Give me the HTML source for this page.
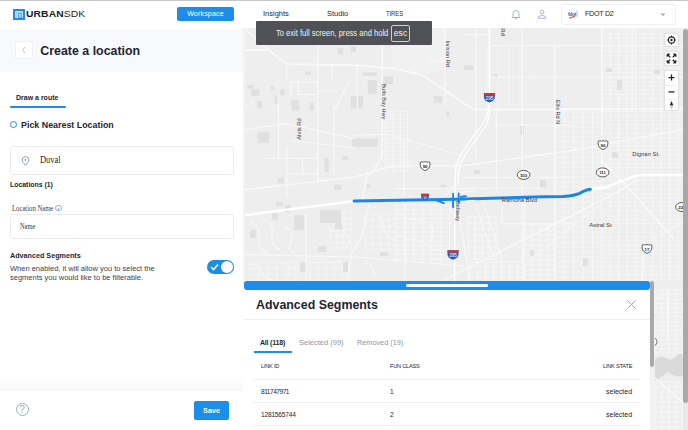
<!DOCTYPE html>
<html><head><meta charset="utf-8">
<style>
*{margin:0;padding:0;box-sizing:border-box}
html,body{width:688px;height:430px;overflow:hidden;background:#fff;font-family:"Liberation Sans",sans-serif;color:#1f2433}
.a{position:absolute;white-space:nowrap}
#topline{left:0;top:0;width:688px;height:1px;background:#c6c6c6}
#hdr{left:0;top:1px;width:688px;height:27px;background:#fff}
#logo{left:13px;top:8.5px;width:12px;height:11.5px;background:#1a8ce9;border-radius:0.5px}
#logo i{position:absolute;left:2.4px;top:2.2px;width:7.4px;height:7px;background:#a9d2f6;border-radius:1px;border:1px solid #c8e2fa}
#logo i:after{content:"";position:absolute;left:1.5px;top:1.5px;width:2.5px;height:2.5px;border:0.8px solid #5aa8ee;border-radius:0.5px}
#brand{left:26.3px;top:7.3px;font-size:8.8px;line-height:14px;color:#161b2b;transform:scaleX(1.17);transform-origin:0 0}
#brand b{font-weight:bold;letter-spacing:0.1px}
#brand span{letter-spacing:0.05px;color:#1f2433}
#ws{left:177px;top:7px;width:57px;height:14px;background:#1c8de9;border-radius:2px;color:#fff;font-size:7px;line-height:14px;text-align:center;letter-spacing:0.2px}
.nav{top:7.4px;font-size:7.5px;line-height:14px;color:#1f2433}
#panel{left:0;top:28px;width:243px;height:402px;background:#fff}
#phdr{left:0;top:28.5px;width:243px;height:43.5px;background:#f8f9fb}
#back{left:15px;top:41px;width:18px;height:18px;background:#fff;border:1px solid #eef0f3;border-radius:2px}
#title{left:40.3px;top:42.6px;font-size:12.4px;line-height:16px;font-weight:bold;color:#1f2433}
#tab{left:16px;top:93px;font-size:7px;line-height:9px;font-weight:bold;color:#1f2433}
#tabline{left:10px;top:106px;width:56px;height:1.8px;background:#1c8de9;border-radius:1px}
#radio{left:9.6px;top:121px;width:7.4px;height:7.4px;border:1.7px solid #1c8de9;border-radius:50%}
#pick{left:21px;top:119px;font-size:8.9px;line-height:12px;font-weight:bold;color:#1f2433}
.inp{left:10px;width:224px;background:#fff;border:1px solid #e8ebf0;border-radius:3px}
#duval{left:40px;top:154px;font-family:"Liberation Serif",serif;font-size:9.8px;line-height:12px;color:#1a1a1a;transform:scaleX(0.86);transform-origin:0 0}
#locs{left:10px;top:180px;font-size:6.9px;line-height:10px;font-weight:bold;color:#1f2433}
#lname{left:12px;top:204px;font-family:"Liberation Serif",serif;font-size:7.5px;line-height:9px;color:#3a4050;transform:scaleX(0.89);transform-origin:0 0}
#info{left:55px;top:204.5px;width:6.5px;height:6.5px;border:0.7px solid #8fb4e6;border-radius:50%}
#info:after{content:"";position:absolute;left:2.2px;top:2px;width:0.7px;height:2.5px;background:#8fb4e6}
#nameph{left:20px;top:222px;font-family:"Liberation Serif",serif;font-size:7.5px;line-height:9px;color:#333;transform:scaleX(0.85);transform-origin:0 0}
#advh{left:10px;top:251px;font-size:7.2px;line-height:10px;font-weight:bold;color:#1f2433}
.desc{left:10px;font-size:7.5px;line-height:10px;color:#394054}
#toggle{left:207px;top:260px;width:27px;height:14px;background:#1c8de9;border-radius:7px}
#knob{left:221px;top:261px;width:12px;height:12px;background:#fff;border-radius:50%}
#shadow{left:0;top:376px;width:243px;height:16px;background:linear-gradient(to bottom,rgba(0,0,0,0),rgba(0,0,0,0.035))}
#footer{left:0;top:391px;width:243px;height:39px;background:#fff}
#help{left:15.5px;top:403.3px;width:13px;height:13px;border:1px solid #9aaccb;border-radius:50%;color:#9aaccb;font-size:10px;line-height:11.5px;text-align:center}
#save{left:194px;top:401px;width:35px;height:19px;background:#1c8de9;border-radius:2px;color:#fff;font-size:7.2px;line-height:19px;text-align:center;font-weight:bold}
#sep{left:243px;top:28px;width:2px;height:253px;background:#f3f3f3}
#map{left:243px;top:28px;width:445px;height:402px;overflow:hidden}
#osbt{left:683px;top:28px;width:5px;height:402px;background:#e9e9e9}
#osb{left:683px;top:29px;width:5px;height:374px;background:#a8a8a8;border-radius:2.5px}
#ovl{left:256px;top:21px;width:176px;height:24px;background:#505156;border-radius:1px}
#ovt{left:275.5px;top:27px;font-size:8.8px;line-height:12px;color:#f2f2f2;transform:scaleX(0.86);transform-origin:0 0}
#esc{left:391px;top:25px;width:19px;height:17px;border:1px solid #d0d0d0;border-radius:2px;color:#f2f2f2;font-size:8.6px;line-height:14.5px;text-align:center}
.ctl{left:664.3px;width:14.5px;background:#fff;border:1px solid #e2e2e2;border-radius:2px;box-shadow:0 0 1px rgba(0,0,0,0.08)}
/* bottom panel */
#bp{left:243px;top:285px;width:407px;height:145px;background:#fff}
#bpbar{left:243.6px;top:281px;width:406.4px;height:9.4px;background:#1c8de9;border-radius:3px}
#bphandle{left:406px;top:284.4px;width:81.5px;height:2.6px;background:#fff;border-radius:1.3px}
#bptitle{left:256px;top:297px;font-size:12.4px;line-height:16px;font-weight:bold;color:#1f2433}
#bpdiv{left:244px;top:319px;width:406px;height:1px;background:#eef0f3}
.tabt{top:338px;font-size:7.5px;line-height:10px;color:#8d97ab}
#bptab{left:254px;top:351px;width:38px;height:2px;background:#1c8de9}
.th{top:362px;font-size:5.6px;line-height:8px;color:#1f2433}
.td{font-size:6.6px;line-height:9px;color:#1f2433}
.hl{left:253px;width:387px;height:1px;background:#eceef2}
#isb{left:650px;top:281px;width:4px;height:86px;background:#a9a9a9;border-radius:2px}
#isbt{left:649.5px;top:281px;width:5.5px;height:149px;background:#f1f1f1}
</style></head><body>
<div class="a" id="topline"></div>
<div class="a" id="hdr"></div>
<div class="a" id="logo"><i></i></div>
<div class="a" id="brand"><b>URBAN</b><span>SDK</span></div>
<div class="a" id="ws">Workspace</div>
<div class="a nav" style="left:263px">Insights</div>
<div class="a nav" style="left:327px">Studio</div>
<div class="a nav" style="left:386.3px;font-size:7.3px;transform:scaleX(0.79);transform-origin:0 0">TIRES</div>
<!-- header right -->
<svg class="a" style="left:510px;top:8px" width="12" height="12" viewBox="0 0 12 12"><path d="M3 8.5 V5.5 a3 3 0 0 1 6 0 V8.5 L10 9.5 H2 Z M5 10.5 h2" fill="none" stroke="#9fb1cc" stroke-width="0.9" stroke-linejoin="round"/></svg>
<svg class="a" style="left:536px;top:8px" width="12" height="12" viewBox="0 0 12 12"><circle cx="6" cy="4" r="1.9" fill="none" stroke="#9fb1cc" stroke-width="0.9"/><path d="M2 10.3 a4 2.8 0 0 1 8 0 Z" fill="none" stroke="#9fb1cc" stroke-width="0.9"/></svg>
<div class="a" style="left:561px;top:4px;width:115px;height:21px;border:1px solid #edf0f4;border-radius:3px;background:#fff"></div>
<svg class="a" style="left:567px;top:9px" width="12" height="11" viewBox="0 0 12 11"><text x="1" y="6.8" font-size="5" font-weight="bold" fill="#4262b0" font-family="Liberation Sans" letter-spacing="-0.3">fdot</text><path d="M2 9.3 Q5 8.5 8 7" stroke="#e8403a" stroke-width="1.1" fill="none"/><path d="M10 1 V8" stroke="#a8c4e6" stroke-width="0.8"/></svg>
<div class="a" style="left:585px;top:8px;font-size:7.2px;line-height:12px;color:#1f2433;letter-spacing:-0.3px">FDOT D2</div>
<svg class="a" style="left:660px;top:13px" width="6" height="4" viewBox="0 0 6 4"><path d="M0.5 0.5 L3 3 L5.5 0.5 Z" fill="#9aa6bb"/></svg>

<div class="a" id="panel"></div>
<div class="a" id="phdr"></div>
<div class="a" id="back"></div>
<svg class="a" style="left:21px;top:46px" width="6" height="8" viewBox="0 0 6 8"><path d="M4 1 L1.5 4 L4 7" fill="none" stroke="#b5bfd0" stroke-width="0.9"/></svg>
<div class="a" id="title">Create a location</div>
<div class="a" id="tab">Draw a route</div>
<div class="a" id="tabline"></div>
<div class="a" id="radio"></div>
<div class="a" id="pick">Pick Nearest Location</div>
<div class="a inp" style="top:146px;height:29px"></div>
<svg class="a" style="left:21px;top:156px" width="9" height="10" viewBox="0 0 9 10"><path d="M4.5 9.3 C2.5 7 1.2 5.3 1.2 3.9 a3.3 3.3 0 0 1 6.6 0 C7.8 5.3 6.5 7 4.5 9.3 Z" fill="none" stroke="#8395b3" stroke-width="0.9"/><circle cx="4.5" cy="3.9" r="0.9" fill="#8395b3"/></svg>
<div class="a" id="duval">Duval</div>
<div class="a" id="locs">Locations (1)</div>
<div class="a" id="lname">Location Name</div>
<div class="a" id="info"></div>
<div class="a inp" style="top:214px;height:25px"></div>
<div class="a" id="nameph">Name</div>
<div class="a" id="advh">Advanced Segments</div>
<div class="a desc" style="top:264px">When enabled, it will allow you to select the</div>
<div class="a desc" style="top:273px">segments you would like to be filterable.</div>
<div class="a" id="toggle"></div>
<div class="a" id="knob"></div>
<svg class="a" style="left:210px;top:263px" width="9" height="8" viewBox="0 0 9 8"><path d="M1 4 L3.5 6.5 L8 1.5" fill="none" stroke="#fff" stroke-width="1.6"/></svg>
<div class="a" id="shadow"></div>
<div class="a" id="footer"></div>
<div class="a" id="help">?</div>
<div class="a" id="save">Save</div>

<svg class="a" id="map" viewBox="243 28 445 402" width="445" height="402">
<rect x="243" y="28" width="445" height="402" fill="#eeeeee"/>
<path d="M389 28 H445 V71 L419 74 L393 68.5 Z" fill="#f1f1f1"/>
<path d="M654 360 Q660 354 666 358 Q672 362 676 356 Q680 352 684 354 V376 Q676 378 668 372 Q660 378 654 382 Z" fill="#dadada"/>
<path d="M601.7 28V280 M610.2 28V280 M618.7 28V280 M627.2 28V280 M635.7 28V280 M644.2 28V280 M652.7 28V280 M661.2 28V280 M669.7 28V280 M678.2 28V280" fill="none" stroke="#f9f9f9" stroke-width="0.7" stroke-linecap="round" stroke-linejoin="round" />
<path d="M601.7 30.0H683 M601.7 34.3H683 M601.7 38.6H683 M601.7 42.9H683 M601.7 47.2H683 M601.7 51.5H683 M601.7 55.8H683 M601.7 60.1H683 M601.7 64.4H683 M601.7 68.7H683 M601.7 73.0H683 M601.7 77.3H683 M601.7 81.6H683 M601.7 85.9H683 M601.7 90.2H683 M601.7 94.5H683 M601.7 98.8H683 M601.7 103.1H683 M601.7 107.4H683 M601.7 111.7H683 M601.7 116.0H683 M601.7 120.3H683 M601.7 124.6H683 M601.7 128.9H683 M601.7 133.2H683 M601.7 137.5H683 M601.7 141.8H683 M601.7 146.1H683 M601.7 150.4H683 M601.7 154.7H683 M601.7 159.0H683 M601.7 163.3H683 M601.7 167.6H683 M601.7 171.9H683 M601.7 176.2H683 M601.7 180.5H683 M601.7 184.8H683 M601.7 189.1H683 M601.7 193.4H683 M601.7 197.7H683 M601.7 202.0H683 M601.7 206.3H683 M601.7 210.6H683 M601.7 214.9H683 M601.7 219.2H683 M601.7 223.5H683 M601.7 227.8H683 M601.7 232.1H683 M601.7 236.4H683 M601.7 240.7H683 M601.7 245.0H683 M601.7 249.3H683 M601.7 253.6H683 M601.7 257.9H683 M601.7 262.2H683 M601.7 266.5H683 M601.7 270.8H683 M601.7 275.1H683 M601.7 279.4H683" fill="none" stroke="#f7f7f7" stroke-width="0.7" stroke-linecap="round" stroke-linejoin="round" />
<path d="M555.0 110V280 M564.4 110V280 M573.8 110V280 M583.2 110V280 M592.6 110V280" fill="none" stroke="#f9f9f9" stroke-width="0.7" stroke-linecap="round" stroke-linejoin="round" />
<path d="M555 112.0H601 M555 117.0H601 M555 122.0H601 M555 127.0H601 M555 132.0H601 M555 137.0H601 M555 142.0H601 M555 147.0H601 M555 152.0H601 M555 157.0H601 M555 162.0H601 M555 167.0H601 M555 172.0H601 M555 177.0H601 M555 182.0H601 M555 187.0H601 M555 192.0H601 M555 197.0H601 M555 202.0H601 M555 207.0H601 M555 212.0H601 M555 217.0H601 M555 222.0H601 M555 227.0H601 M555 232.0H601 M555 237.0H601 M555 242.0H601 M555 247.0H601 M555 252.0H601 M555 257.0H601 M555 262.0H601 M555 267.0H601 M555 272.0H601 M555 277.0H601" fill="none" stroke="#f7f7f7" stroke-width="0.7" stroke-linecap="round" stroke-linejoin="round" />
<path d="M385.4 111V172 M392.9 111V172 M400.4 111V172 M407.9 111V172 M385.4 111.0H408.4 M385.4 115.0H408.4 M385.4 119.0H408.4 M385.4 123.0H408.4 M385.4 127.0H408.4 M385.4 131.0H408.4 M385.4 135.0H408.4 M385.4 139.0H408.4 M385.4 143.0H408.4 M385.4 147.0H408.4 M385.4 151.0H408.4 M385.4 155.0H408.4 M385.4 159.0H408.4 M385.4 163.0H408.4 M385.4 167.0H408.4 M385.4 171.0H408.4" fill="none" stroke="#f9f9f9" stroke-width="0.7" stroke-linecap="round" stroke-linejoin="round" />
<path d="M395.8 205V262 M404.8 205V262 M413.8 205V262 M422.8 205V262 M431.8 205V262 M440.8 205V262 M449.8 205V262 M395.8 205.0H450 M395.8 209.5H450 M395.8 214.0H450 M395.8 218.5H450 M395.8 223.0H450 M395.8 227.5H450 M395.8 232.0H450 M395.8 236.5H450 M395.8 241.0H450 M395.8 245.5H450 M395.8 250.0H450 M395.8 254.5H450 M395.8 259.0H450" fill="none" stroke="#f9f9f9" stroke-width="0.7" stroke-linecap="round" stroke-linejoin="round" />
<path d="M655.0 290V356 M662.0 290V356 M669.0 290V356 M676.0 290V356 M683.0 290V356 M655 290.0H683 M655 294.5H683 M655 299.0H683 M655 303.5H683 M655 308.0H683 M655 312.5H683 M655 317.0H683 M655 321.5H683 M655 326.0H683 M655 330.5H683 M655 335.0H683 M655 339.5H683 M655 344.0H683 M655 348.5H683 M655 353.0H683" fill="none" stroke="#f9f9f9" stroke-width="0.7" stroke-linecap="round" stroke-linejoin="round" />
<path d="M655.0 382V430 M662.0 382V430 M669.0 382V430 M676.0 382V430 M683.0 382V430 M655 382.0H683 M655 387.0H683 M655 392.0H683 M655 397.0H683 M655 402.0H683 M655 407.0H683 M655 412.0H683 M655 417.0H683 M655 422.0H683 M655 427.0H683" fill="none" stroke="#f9f9f9" stroke-width="0.7" stroke-linecap="round" stroke-linejoin="round" />
<path d="M468.0 217V260 M475.0 217V260 M482.0 217V260 M489.0 217V260 M496.0 217V260 M468 217.0H496 M468 223.0H496 M468 229.0H496 M468 235.0H496 M468 241.0H496 M468 247.0H496 M468 253.0H496 M468 259.0H496" fill="none" stroke="#f9f9f9" stroke-width="0.7" stroke-linecap="round" stroke-linejoin="round" />
<path d="M524.0 225V280 M532.0 225V280 M540.0 225V280 M548.0 225V280 M524 225.0H555 M524 230.0H555 M524 235.0H555 M524 240.0H555 M524 245.0H555 M524 250.0H555 M524 255.0H555 M524 260.0H555 M524 265.0H555 M524 270.0H555 M524 275.0H555 M524 280.0H555" fill="none" stroke="#f9f9f9" stroke-width="0.7" stroke-linecap="round" stroke-linejoin="round" />
<path d="M476.0 46V108 M487.0 46V108 M498.0 46V108 M509.0 46V108 M520.0 46V108" fill="none" stroke="#f9f9f9" stroke-width="0.6" stroke-linecap="round" stroke-linejoin="round" />
<path d="M470.0 262V281 M478.0 262V281 M486.0 262V281 M494.0 262V281 M502.0 262V281 M510.0 262V281 M518.0 262V281 M470 262.0H520 M470 267.0H520 M470 272.0H520 M470 277.0H520" fill="none" stroke="#f9f9f9" stroke-width="0.7" stroke-linecap="round" stroke-linejoin="round" />
<path d="M250.0 262V281 M259.0 262V281 M268.0 262V281 M277.0 262V281 M286.0 262V281 M295.0 262V281 M250 262.0H300 M250 268.0H300 M250 274.0H300 M250 280.0H300" fill="none" stroke="#f7f7f7" stroke-width="0.7" stroke-linecap="round" stroke-linejoin="round" />
<path d="M330.0 212V250 M337.0 212V250 M344.0 212V250 M351.0 212V250 M330 212.0H352 M330 218.0H352 M330 224.0H352 M330 230.0H352 M330 236.0H352 M330 242.0H352 M330 248.0H352" fill="none" stroke="#f7f7f7" stroke-width="0.7" stroke-linecap="round" stroke-linejoin="round" />
<path d="M365.0 214V250 M373.0 214V250 M381.0 214V250 M389.0 214V250 M365 214.0H395 M365 220.0H395 M365 226.0H395 M365 232.0H395 M365 238.0H395 M365 244.0H395 M365 250.0H395" fill="none" stroke="#f7f7f7" stroke-width="0.7" stroke-linecap="round" stroke-linejoin="round" />
<path d="M310.0 262V281 M318.0 262V281 M326.0 262V281 M334.0 262V281 M342.0 262V281 M350.0 262V281 M310 262.0H350 M310 268.0H350 M310 274.0H350 M310 280.0H350" fill="none" stroke="#f7f7f7" stroke-width="0.7" stroke-linecap="round" stroke-linejoin="round" />
<path d="M522.0 46V108 M533.0 46V108 M544.0 46V108 M555.0 46V108" fill="none" stroke="#f3f3f3" stroke-width="0.6" stroke-linecap="round" stroke-linejoin="round" />
<rect x="251.3" y="89.6" width="8.2" height="6.5" fill="#e0e0e0" rx="0.5"/>
<rect x="247.3" y="85.2" width="6.5" height="3.3" fill="#e0e0e0" rx="0.5"/>
<rect x="270.9" y="85.6" width="3.2" height="5.2" fill="#e0e0e0" rx="0.5"/>
<rect x="280.1" y="89.6" width="4.6" height="5.7" fill="#e0e0e0" rx="0.5"/>
<rect x="274.9" y="95.3" width="3.3" height="8.5" fill="#e0e0e0" rx="0.5"/>
<rect x="291.2" y="99.9" width="7.3" height="10.1" fill="#e0e0e0" rx="0.5"/>
<rect x="257.0" y="101.0" width="4.9" height="7.3" fill="#e0e0e0" rx="0.5"/>
<rect x="309.9" y="102.7" width="4.1" height="7.3" fill="#e0e0e0" rx="0.5"/>
<rect x="337.6" y="48.1" width="5.7" height="6.5" fill="#e0e0e0" rx="0.5"/>
<rect x="350.6" y="46.5" width="5.4" height="5.7" fill="#e0e0e0" rx="0.5"/>
<rect x="305.0" y="71.7" width="5.7" height="3.3" fill="#e0e0e0" rx="0.5"/>
<rect x="350.6" y="96.1" width="12.0" height="12.1" fill="#e0e0e0" rx="0.5"/>
<rect x="367.8" y="79.9" width="9.0" height="13.8" fill="#e0e0e0" rx="0.5"/>
<rect x="362.1" y="72.5" width="14.7" height="3.3" fill="#e0e0e0" rx="0.5"/>
<rect x="383.3" y="76.6" width="9.7" height="7.4" fill="#e0e0e0" rx="0.5"/>
<rect x="354.0" y="96.1" width="9.0" height="12.2" fill="#e0e0e0" rx="0.5"/>
<rect x="433.7" y="96.1" width="8.2" height="6.6" fill="#e0e0e0" rx="0.5"/>
<rect x="464.0" y="65.2" width="9.5" height="4.8" fill="#e0e0e0" rx="0.5"/>
<rect x="492.6" y="73.8" width="4.8" height="2.8" fill="#e0e0e0" rx="0.5"/>
<rect x="257.6" y="132.2" width="11.5" height="10.5" fill="#e0e0e0" rx="0.5"/>
<rect x="324.5" y="158.3" width="4.2" height="13.7" fill="#e0e0e0" rx="0.5"/>
<rect x="342.3" y="156.3" width="5.3" height="4.1" fill="#e0e0e0" rx="0.5"/>
<rect x="277.5" y="178.2" width="6.2" height="5.3" fill="#e0e0e0" rx="0.5"/>
<rect x="292.1" y="105.0" width="7.3" height="5.2" fill="#e0e0e0" rx="0.5"/>
<rect x="334.0" y="184.5" width="7.3" height="5.2" fill="#e0e0e0" rx="0.5"/>
<rect x="352.0" y="138.6" width="25.7" height="8.1" fill="#e0e0e0" rx="0.5"/>
<rect x="446.0" y="111.3" width="3.2" height="5.2" fill="#e0e0e0" rx="0.5"/>
<rect x="366.6" y="184.5" width="4.1" height="3.1" fill="#e0e0e0" rx="0.5"/>
<rect x="440.8" y="184.5" width="5.2" height="3.1" fill="#e0e0e0" rx="0.5"/>
<rect x="294.0" y="215.0" width="10.0" height="15.0" fill="#e0e0e0" rx="0.5"/>
<rect x="320.0" y="210.0" width="21.0" height="13.0" fill="#e0e0e0" rx="0.5"/>
<rect x="272.0" y="213.0" width="6.0" height="7.0" fill="#e0e0e0" rx="0.5"/>
<rect x="285.0" y="205.0" width="6.0" height="7.0" fill="#e0e0e0" rx="0.5"/>
<rect x="343.0" y="262.0" width="5.0" height="10.0" fill="#e0e0e0" rx="0.5"/>
<rect x="318.0" y="246.0" width="8.0" height="6.0" fill="#e0e0e0" rx="0.5"/>
<rect x="380.0" y="252.0" width="8.0" height="4.0" fill="#e0e0e0" rx="0.5"/>
<rect x="276.0" y="202.0" width="7.0" height="4.0" fill="#e0e0e0" rx="0.5"/>
<rect x="335.0" y="223.0" width="7.0" height="7.0" fill="#e0e0e0" rx="0.5"/>
<rect x="250.0" y="230.0" width="6.0" height="8.0" fill="#e0e0e0" rx="0.5"/>
<rect x="300.0" y="262.0" width="6.0" height="10.0" fill="#e0e0e0" rx="0.5"/>
<rect x="520.0" y="125.0" width="4.0" height="10.0" fill="#e0e0e0" rx="0.5"/>
<rect x="540.0" y="180.0" width="6.0" height="8.0" fill="#e0e0e0" rx="0.5"/>
<rect x="606.0" y="68.0" width="6.0" height="4.0" fill="#e0e0e0" rx="0.5"/>
<rect x="617.0" y="80.0" width="5.0" height="10.0" fill="#e0e0e0" rx="0.5"/>
<rect x="612.0" y="152.0" width="6.0" height="6.0" fill="#e0e0e0" rx="0.5"/>
<rect x="583.0" y="258.0" width="5.0" height="8.0" fill="#e0e0e0" rx="0.5"/>
<rect x="654.0" y="70.0" width="6.0" height="4.0" fill="#e0e0e0" rx="0.5"/>
<rect x="530.0" y="250.0" width="4.0" height="6.0" fill="#e0e0e0" rx="0.5"/>
<rect x="474.0" y="170.0" width="6.0" height="4.0" fill="#e0e0e0" rx="0.5"/>
<rect x="595.0" y="290.0" width="5.0" height="10.0" fill="#e0e0e0" rx="0.5"/>
<path d="M244 50.1 H268.4 L287.1 64.1 L354 65.2 L393 68.5 L419.1 74.2 Q428 78 435.4 84 L464 103.5 L474.2 109.4 L688 109" fill="none" stroke="#fafafa" stroke-width="1.7" stroke-linecap="round" stroke-linejoin="round" />
<path d="M317.7 28 V182.4" fill="none" stroke="#fafafa" stroke-width="1.1" stroke-linecap="round" stroke-linejoin="round" />
<path d="M245 28.5 L268.4 50.1" fill="none" stroke="#fafafa" stroke-width="1.2" stroke-linecap="round" stroke-linejoin="round" />
<path d="M286.3 64 V79" fill="none" stroke="#fafafa" stroke-width="1" stroke-linecap="round" stroke-linejoin="round" />
<path d="M331.9 64 V80.7" fill="none" stroke="#fafafa" stroke-width="1" stroke-linecap="round" stroke-linejoin="round" />
<path d="M291.2 82 H317.7" fill="none" stroke="#fafafa" stroke-width="1" stroke-linecap="round" stroke-linejoin="round" />
<path d="M291.2 82 V95.3" fill="none" stroke="#fafafa" stroke-width="1" stroke-linecap="round" stroke-linejoin="round" />
<path d="M298.5 82 V95" fill="none" stroke="#fafafa" stroke-width="1" stroke-linecap="round" stroke-linejoin="round" />
<path d="M298.5 94.5 H317.7" fill="none" stroke="#fafafa" stroke-width="1" stroke-linecap="round" stroke-linejoin="round" />
<path d="M317.7 90.8 H336.8" fill="none" stroke="#fafafa" stroke-width="1" stroke-linecap="round" stroke-linejoin="round" />
<path d="M278.2 94 V110" fill="none" stroke="#fafafa" stroke-width="1" stroke-linecap="round" stroke-linejoin="round" />
<path d="M351.4 79.9 Q345 87 338.4 101.8 L335.1 110" fill="none" stroke="#fafafa" stroke-width="1" stroke-linecap="round" stroke-linejoin="round" />
<path d="M244 108.3 L253.8 101" fill="none" stroke="#fafafa" stroke-width="1" stroke-linecap="round" stroke-linejoin="round" />
<path d="M357.3 65 V110" fill="none" stroke="#fafafa" stroke-width="1" stroke-linecap="round" stroke-linejoin="round" />
<path d="M428.9 61.2 H445" fill="none" stroke="#fafafa" stroke-width="1" stroke-linecap="round" stroke-linejoin="round" />
<path d="M445.1 28 V105" fill="none" stroke="#fafafa" stroke-width="1" stroke-linecap="round" stroke-linejoin="round" />
<path d="M475.8 28 V160" fill="none" stroke="#fafafa" stroke-width="1" stroke-linecap="round" stroke-linejoin="round" />
<path d="M522.2 28 V281" fill="none" stroke="#fafafa" stroke-width="1" stroke-linecap="round" stroke-linejoin="round" />
<path d="M554.6 45 V281" fill="none" stroke="#fafafa" stroke-width="1.1" stroke-linecap="round" stroke-linejoin="round" />
<path d="M490.7 45.5 H683" fill="none" stroke="#fafafa" stroke-width="1.1" stroke-linecap="round" stroke-linejoin="round" />
<path d="M490 77.2 H683" fill="none" stroke="#fafafa" stroke-width="1.1" stroke-linecap="round" stroke-linejoin="round" />
<path d="M464 34.7 H489" fill="none" stroke="#fafafa" stroke-width="1" stroke-linecap="round" stroke-linejoin="round" />
<path d="M601.7 28 V160.7 L630.5 190 L673.4 238.7" fill="none" stroke="#fafafa" stroke-width="1.5" stroke-linecap="round" stroke-linejoin="round" />
<path d="M632.2 28 V110" fill="none" stroke="#fafafa" stroke-width="1" stroke-linecap="round" stroke-linejoin="round" />
<path d="M244 130.1 L285.8 123.4 L354 138.5" fill="none" stroke="#fafafa" stroke-width="1.2" stroke-linecap="round" stroke-linejoin="round" />
<path d="M354 135.3 L387.5 134.3 L464 156.3" fill="none" stroke="#fafafa" stroke-width="1" stroke-linecap="round" stroke-linejoin="round" />
<path d="M278.5 105 V158.3 H318" fill="none" stroke="#fafafa" stroke-width="1" stroke-linecap="round" stroke-linejoin="round" />
<path d="M265 158.3 H278.5" fill="none" stroke="#fafafa" stroke-width="1" stroke-linecap="round" stroke-linejoin="round" />
<path d="M286.9 147.9 V195" fill="none" stroke="#fafafa" stroke-width="1" stroke-linecap="round" stroke-linejoin="round" />
<path d="M286.9 174 H318" fill="none" stroke="#fafafa" stroke-width="1" stroke-linecap="round" stroke-linejoin="round" />
<path d="M302.6 158 V174" fill="none" stroke="#fafafa" stroke-width="1" stroke-linecap="round" stroke-linejoin="round" />
<path d="M291.1 140.6 L354 147.9" fill="none" stroke="#fafafa" stroke-width="1" stroke-linecap="round" stroke-linejoin="round" />
<path d="M334 105 V174" fill="none" stroke="#fafafa" stroke-width="1" stroke-linecap="round" stroke-linejoin="round" />
<path d="M244 189.7 L354 177.2 L393.7 165.7 L464 165.7 L574 150.2 L684 129.3" fill="none" stroke="#fafafa" stroke-width="1.3" stroke-linecap="round" stroke-linejoin="round" />
<path d="M382.2 28 V155.2 Q378 168 366.6 176.1 L362 204" fill="none" stroke="#fafafa" stroke-width="1.4" stroke-linecap="round" stroke-linejoin="round" />
<path d="M404.2 140.6 V195" fill="none" stroke="#fafafa" stroke-width="1" stroke-linecap="round" stroke-linejoin="round" />
<path d="M496.4 109 V190" fill="none" stroke="#fafafa" stroke-width="1" stroke-linecap="round" stroke-linejoin="round" />
<path d="M496 125.1 H574" fill="none" stroke="#fafafa" stroke-width="1" stroke-linecap="round" stroke-linejoin="round" />
<path d="M464 177.4 H574" fill="none" stroke="#fafafa" stroke-width="1" stroke-linecap="round" stroke-linejoin="round" />
<path d="M394 188.6 L544 188" fill="none" stroke="#fafafa" stroke-width="1" stroke-linecap="round" stroke-linejoin="round" />
<path d="M369 204 Q366 220 362 235 Q358 245 352 252 L347 281" fill="none" stroke="#fafafa" stroke-width="1.1" stroke-linecap="round" stroke-linejoin="round" />
<path d="M244 254.6 L354 257 L464 266" fill="none" stroke="#fafafa" stroke-width="1.1" stroke-linecap="round" stroke-linejoin="round" />
<path d="M306 215 V281" fill="none" stroke="#fafafa" stroke-width="1" stroke-linecap="round" stroke-linejoin="round" />
<path d="M405 205 V281" fill="none" stroke="#fafafa" stroke-width="1.1" stroke-linecap="round" stroke-linejoin="round" />
<path d="M458.3 206.5 L469.2 281" fill="none" stroke="#fafafa" stroke-width="1" stroke-linecap="round" stroke-linejoin="round" />
<path d="M442 281 L574 214.3 L621.6 190 L636 180" fill="none" stroke="#fafafa" stroke-width="1.4" stroke-linecap="round" stroke-linejoin="round" />
<path d="M523.2 267 L574 224.9 L600 205" fill="none" stroke="#fafafa" stroke-width="1" stroke-linecap="round" stroke-linejoin="round" />
<path d="M524.3 200 V281" fill="none" stroke="#fafafa" stroke-width="1" stroke-linecap="round" stroke-linejoin="round" />
<path d="M502 223.8 H574" fill="none" stroke="#fafafa" stroke-width="1" stroke-linecap="round" stroke-linejoin="round" />
<path d="M502 205 V223.8" fill="none" stroke="#fafafa" stroke-width="1" stroke-linecap="round" stroke-linejoin="round" />
<path d="M650.2 240.8 L684 221.7" fill="none" stroke="#fafafa" stroke-width="1" stroke-linecap="round" stroke-linejoin="round" />
<path d="M642.8 253.5 L642 281" fill="none" stroke="#fafafa" stroke-width="1.4" stroke-linecap="round" stroke-linejoin="round" />
<path d="M655 378 L683 402.5" fill="none" stroke="#fafafa" stroke-width="1.3" stroke-linecap="round" stroke-linejoin="round" />
<path d="M655 300 L670 290" fill="none" stroke="#fafafa" stroke-width="1" stroke-linecap="round" stroke-linejoin="round" />
<path d="M667.8 290 V340" fill="none" stroke="#fafafa" stroke-width="1.2" stroke-linecap="round" stroke-linejoin="round" />
<path d="M250 222 Q262 226 259 238 Q256 248 266 252" fill="none" stroke="#fafafa" stroke-width="1" stroke-linecap="round" stroke-linejoin="round" />
<path d="M262 218 Q275 222 272 236 Q270 246 280 250" fill="none" stroke="#fafafa" stroke-width="1" stroke-linecap="round" stroke-linejoin="round" />
<path d="M284 226 Q296 232 290 244 Q286 250 296 254" fill="none" stroke="#fafafa" stroke-width="1" stroke-linecap="round" stroke-linejoin="round" />
<path d="M248 264 Q258 262 262 272 Q264 279 272 280" fill="none" stroke="#fafafa" stroke-width="1" stroke-linecap="round" stroke-linejoin="round" />
<path d="M280 262 Q292 264 290 274" fill="none" stroke="#fafafa" stroke-width="1" stroke-linecap="round" stroke-linejoin="round" />
<path d="M330 232 Q340 226 348 236 Q352 244 344 250" fill="none" stroke="#fafafa" stroke-width="1" stroke-linecap="round" stroke-linejoin="round" />
<path d="M372 214 Q384 216 384 228 Q384 238 394 240" fill="none" stroke="#fafafa" stroke-width="1" stroke-linecap="round" stroke-linejoin="round" />
<path d="M365 262 Q376 266 374 276" fill="none" stroke="#fafafa" stroke-width="1" stroke-linecap="round" stroke-linejoin="round" />
<path d="M400 214 Q410 222 424 220 Q436 226 432 240" fill="none" stroke="#fafafa" stroke-width="1" stroke-linecap="round" stroke-linejoin="round" />
<path d="M405 240 Q418 236 428 246 Q434 252 446 250" fill="none" stroke="#fafafa" stroke-width="1" stroke-linecap="round" stroke-linejoin="round" />
<path d="M476 205 L494 260" fill="none" stroke="#fafafa" stroke-width="0.8" stroke-linecap="round" stroke-linejoin="round" />
<path d="M484 205 L502 258" fill="none" stroke="#fafafa" stroke-width="0.8" stroke-linecap="round" stroke-linejoin="round" />
<path d="M244 215.3 L354 201" fill="none" stroke="#ffffff" stroke-width="2.6" stroke-linecap="round" stroke-linejoin="round" />
<path d="M590.3 189.3 Q598 188.5 605.4 187.4 Q620 182 636.8 175.3 L688 175" fill="none" stroke="#ffffff" stroke-width="2.6" stroke-linecap="round" stroke-linejoin="round" />
<path d="M489.4 28 V105 Q488 118 477 131.8 Q462 150 456.5 165 Q454.5 175 455 190 L454.5 281" fill="none" stroke="#ffffff" stroke-width="1.5" stroke-linecap="round" stroke-linejoin="round" />
<path d="M489.4 105 Q491 121 481 133 Q466 152 460 164 Q458 172 458 185" fill="none" stroke="#ffffff" stroke-width="1.3" stroke-linecap="round" stroke-linejoin="round" />
<path d="M354 201 L456 199.2 L544 196.7 L563 196.5 Q576 196 583 191.5 Q587 189.6 590.3 189.3" fill="none" stroke="#1a87e6" stroke-width="3" stroke-linecap="round" stroke-linejoin="round" />
<path d="M445.7 195.2 Q450 193 452.2 186 M458.7 194.3 Q463 191 474.5 190.6 M445.7 203.6 Q450 206 452.2 212 M459.6 202.7 Q465 200.8 474.5 200.3" fill="none" stroke="#fbfbfb" stroke-width="1" stroke-linecap="round" stroke-linejoin="round" />
<path d="M436.4 200.3 L443.8 203.1 M453.1 193.8 L453.1 207.3 M458.7 193.4 L458.7 201.7 M461 196.8 L466 196.2" fill="none" stroke="#1a87e6" stroke-width="1.9" stroke-linecap="round" stroke-linejoin="round" />
<g transform="translate(489.4 97.5) scale(1)"><path d="M-5.5 -4.5 h11 v4 q0 4 -5.5 5.5 q-5.5 -1.5 -5.5 -5.5 z" fill="#2d5fb8"/><rect x="-5.5" y="-4.5" width="11" height="2.2" fill="#d8322c"/><text x="0" y="2.6" font-size="4.6" text-anchor="middle" fill="#fff" font-family="Liberation Sans">295</text></g>
<g transform="translate(453 254.8) scale(1)"><path d="M-5.5 -4.5 h11 v4 q0 4 -5.5 5.5 q-5.5 -1.5 -5.5 -5.5 z" fill="#2d5fb8"/><rect x="-5.5" y="-4.5" width="11" height="2.2" fill="#d8322c"/><text x="0" y="2.6" font-size="4.6" text-anchor="middle" fill="#fff" font-family="Liberation Sans">295</text></g>
<g transform="translate(425 197) scale(0.7)"><path d="M-5.5 -4.5 h11 v4 q0 4 -5.5 5.5 q-5.5 -1.5 -5.5 -5.5 z" fill="#2d5fb8"/><rect x="-5.5" y="-4.5" width="11" height="2.2" fill="#d8322c"/><text x="0" y="2.6" font-size="4.6" text-anchor="middle" fill="#fff" font-family="Liberation Sans">10</text></g>
<path d="M420.3 162.4 q1 -0.8 2.2 -0.4 q1.3 0.5 2.6 -0.4 q1.3 0.9 2.6 0.4 q1.2 -0.4 2.2 0.4 q0.4 2.5 -0.4 4.6 q-1.4 2.7 -4.4 3.6 q-3 -0.9 -4.4 -3.6 q-0.8 -2.1 -0.4 -4.6 z" fill="#fff" stroke="#333" stroke-width="0.8"/>
<text x="425.1" y="167.7" font-size="4.4" font-weight="bold" text-anchor="middle" fill="#222" font-family="Liberation Sans">90</text>
<path d="M598.2 141.4 q1 -0.8 2.2 -0.4 q1.3 0.5 2.6 -0.4 q1.3 0.9 2.6 0.4 q1.2 -0.4 2.2 0.4 q0.4 2.5 -0.4 4.6 q-1.4 2.7 -4.4 3.6 q-3 -0.9 -4.4 -3.6 q-0.8 -2.1 -0.4 -4.6 z" fill="#fff" stroke="#333" stroke-width="0.8"/>
<text x="603" y="146.7" font-size="4.4" font-weight="bold" text-anchor="middle" fill="#222" font-family="Liberation Sans">90</text>
<path d="M642.2 245.20000000000002 q1 -0.8 2.2 -0.4 q1.3 0.5 2.6 -0.4 q1.3 0.9 2.6 0.4 q1.2 -0.4 2.2 0.4 q0.4 2.5 -0.4 4.6 q-1.4 2.7 -4.4 3.6 q-3 -0.9 -4.4 -3.6 q-0.8 -2.1 -0.4 -4.6 z" fill="#fff" stroke="#333" stroke-width="0.8"/>
<text x="647" y="250.5" font-size="4.4" font-weight="bold" text-anchor="middle" fill="#222" font-family="Liberation Sans">17</text>
<ellipse cx="523.6" cy="174.9" rx="6.3" ry="4.5" fill="#fff" stroke="#333" stroke-width="0.8"/>
<text x="523.6" y="176.5" font-size="4.4" font-weight="bold" text-anchor="middle" fill="#222" font-family="Liberation Sans">103</text>
<ellipse cx="602.6" cy="172.4" rx="6.3" ry="4.5" fill="#fff" stroke="#333" stroke-width="0.8"/>
<text x="602.6" y="174.0" font-size="4.4" font-weight="bold" text-anchor="middle" fill="#222" font-family="Liberation Sans">111</text>
<ellipse cx="682" cy="207" rx="6.3" ry="4.5" fill="#fff" stroke="#333" stroke-width="0.8"/>
<text x="682" y="208.6" font-size="4.4" font-weight="bold" text-anchor="middle" fill="#222" font-family="Liberation Sans">228</text>
<circle cx="653" cy="341.8" r="4" fill="#fff" stroke="#444" stroke-width="0.7"/>
<text x="519.4" y="200.8" font-size="5.9" text-anchor="middle" dominant-baseline="middle" fill="#3c3c3c" font-family="Liberation Sans">Ramona Blvd</text>
<text x="646" y="154.8" font-size="5.9" text-anchor="middle" dominant-baseline="middle" fill="#3c3c3c" font-family="Liberation Sans">Dignan St.</text>
<text x="600.4" y="225" font-size="5.9" text-anchor="middle" dominant-baseline="middle" fill="#3c3c3c" font-family="Liberation Sans">Astral St</text>
<text x="299.4" y="129" font-size="5.9" text-anchor="middle" dominant-baseline="middle" fill="#3c3c3c" font-family="Liberation Sans" transform="rotate(-90 299.4 129)">Alvis Rd</text>
<text x="383.5" y="101.5" font-size="5.6" text-anchor="middle" dominant-baseline="middle" fill="#3c3c3c" font-family="Liberation Sans" transform="rotate(90 383.5 101.5)">Bulls Bay Hwy</text>
<text x="447.5" y="53.6" font-size="5.6" text-anchor="middle" dominant-baseline="middle" fill="#3c3c3c" font-family="Liberation Sans" transform="rotate(90 447.5 53.6)">Irvision Rd</text>
<text x="557.5" y="112" font-size="5.6" text-anchor="middle" dominant-baseline="middle" fill="#3c3c3c" font-family="Liberation Sans" transform="rotate(90 557.5 112)">Ellis Rd N</text>
<text x="457.3" y="211" font-size="5.9" text-anchor="middle" dominant-baseline="middle" fill="#3c3c3c" font-family="Liberation Sans" transform="rotate(90 457.3 211)">Beltway</text>
<text x="502.1" y="32" font-size="5.9" text-anchor="middle" dominant-baseline="middle" fill="#3c3c3c" font-family="Liberation Sans" transform="rotate(90 502.1 32)">Rd</text>
</svg>
<div class="a" id="sep"></div>
<div class="a" id="osbt"></div>
<div class="a" id="osb"></div>

<!-- map controls -->
<div class="a ctl" style="top:33px;height:14px"></div>
<svg class="a" style="left:666px;top:35px" width="11" height="10" viewBox="0 0 11 10"><circle cx="5.5" cy="5" r="3.1" fill="none" stroke="#1f2433" stroke-width="1.1"/><circle cx="5.5" cy="5" r="1.2" fill="#1f2433"/><path d="M5.5 0.6V1.9 M5.5 8.1V9.4 M1.1 5H2.4 M8.6 5H9.9" stroke="#1f2433" stroke-width="1.1"/></svg>
<div class="a ctl" style="top:51px;height:15px"></div>
<svg class="a" style="left:666px;top:53px" width="11" height="11" viewBox="0 0 11 11"><path d="M1.2 1.2 L4.2 4.2 M1.2 1.2 H3.8 M1.2 1.2 V3.8 M9.8 1.2 L6.8 4.2 M9.8 1.2 H7.2 M9.8 1.2 V3.8 M1.2 9.8 L4.2 6.8 M1.2 9.8 H3.8 M1.2 9.8 V7.2 M9.8 9.8 L6.8 6.8 M9.8 9.8 H7.2 M9.8 9.8 V7.2" stroke="#1f2433" stroke-width="1.3" fill="none"/></svg>
<div class="a ctl" style="top:70px;height:41px"></div>
<div class="a" style="left:665px;top:84.5px;width:12px;height:1px;background:#efefef"></div>
<div class="a" style="left:665px;top:98.5px;width:12px;height:1px;background:#efefef"></div>
<svg class="a" style="left:666px;top:72px" width="11" height="38" viewBox="0 0 11 38"><path d="M5.5 2.6V8.6 M2.5 5.6H8.5" stroke="#1f2433" stroke-width="1.3"/><path d="M2.5 19.9H8.5" stroke="#1f2433" stroke-width="1.3"/><path d="M5.5 29 L3.6 33.4 H7.4 Z" fill="#1f2433"/><path d="M5.5 37.6 L3.6 33.4 H7.4 Z" fill="#c9c9c9"/></svg>
<!-- fullscreen overlay -->
<div class="a" id="ovl"></div>
<div class="a" id="ovt">To exit full screen, press and hold</div>
<div class="a" id="esc">esc</div>

<!-- bottom panel -->
<div class="a" id="isbt"></div>
<div class="a" id="bp"></div>
<div class="a" id="bpbar"></div>
<div class="a" id="bphandle"></div>
<div class="a" id="isb"></div>
<div class="a" id="bptitle">Advanced Segments</div>
<svg class="a" style="left:626px;top:299px" width="11" height="11" viewBox="0 0 11 11"><path d="M1.5 1.5 L9.5 9.5 M9.5 1.5 L1.5 9.5" stroke="#9aa9c0" stroke-width="1"/></svg>
<div class="a" id="bpdiv"></div>
<div class="a tabt" style="left:260px;color:#1f2433;font-weight:bold;font-size:7px;letter-spacing:-0.2px">All (118)</div>
<div class="a tabt" style="left:299px">Selected (99)</div>
<div class="a tabt" style="left:357px;font-size:7.3px">Removed (19)</div>
<div class="a" id="bptab"></div>
<div class="a th" style="left:261px;letter-spacing:-0.2px">LINK ID</div>
<div class="a th" style="left:390px;letter-spacing:-0.2px">FUN CLASS</div>
<div class="a th" style="left:603px;letter-spacing:-0.2px">LINK STATE</div>
<div class="a hl" style="top:379px"></div>
<div class="a td" style="left:261px;top:387px;letter-spacing:-0.5px">811747971</div>
<div class="a td" style="left:390px;top:387px">1</div>
<div class="a td" style="left:606px;top:387px;font-size:7px">selected</div>
<div class="a hl" style="top:402px"></div>
<div class="a td" style="left:261px;top:410px;letter-spacing:-0.2px">1281565744</div>
<div class="a td" style="left:390px;top:410px">2</div>
<div class="a td" style="left:606px;top:410px;font-size:7px">selected</div>
<div class="a hl" style="top:425px"></div>
</body></html>
